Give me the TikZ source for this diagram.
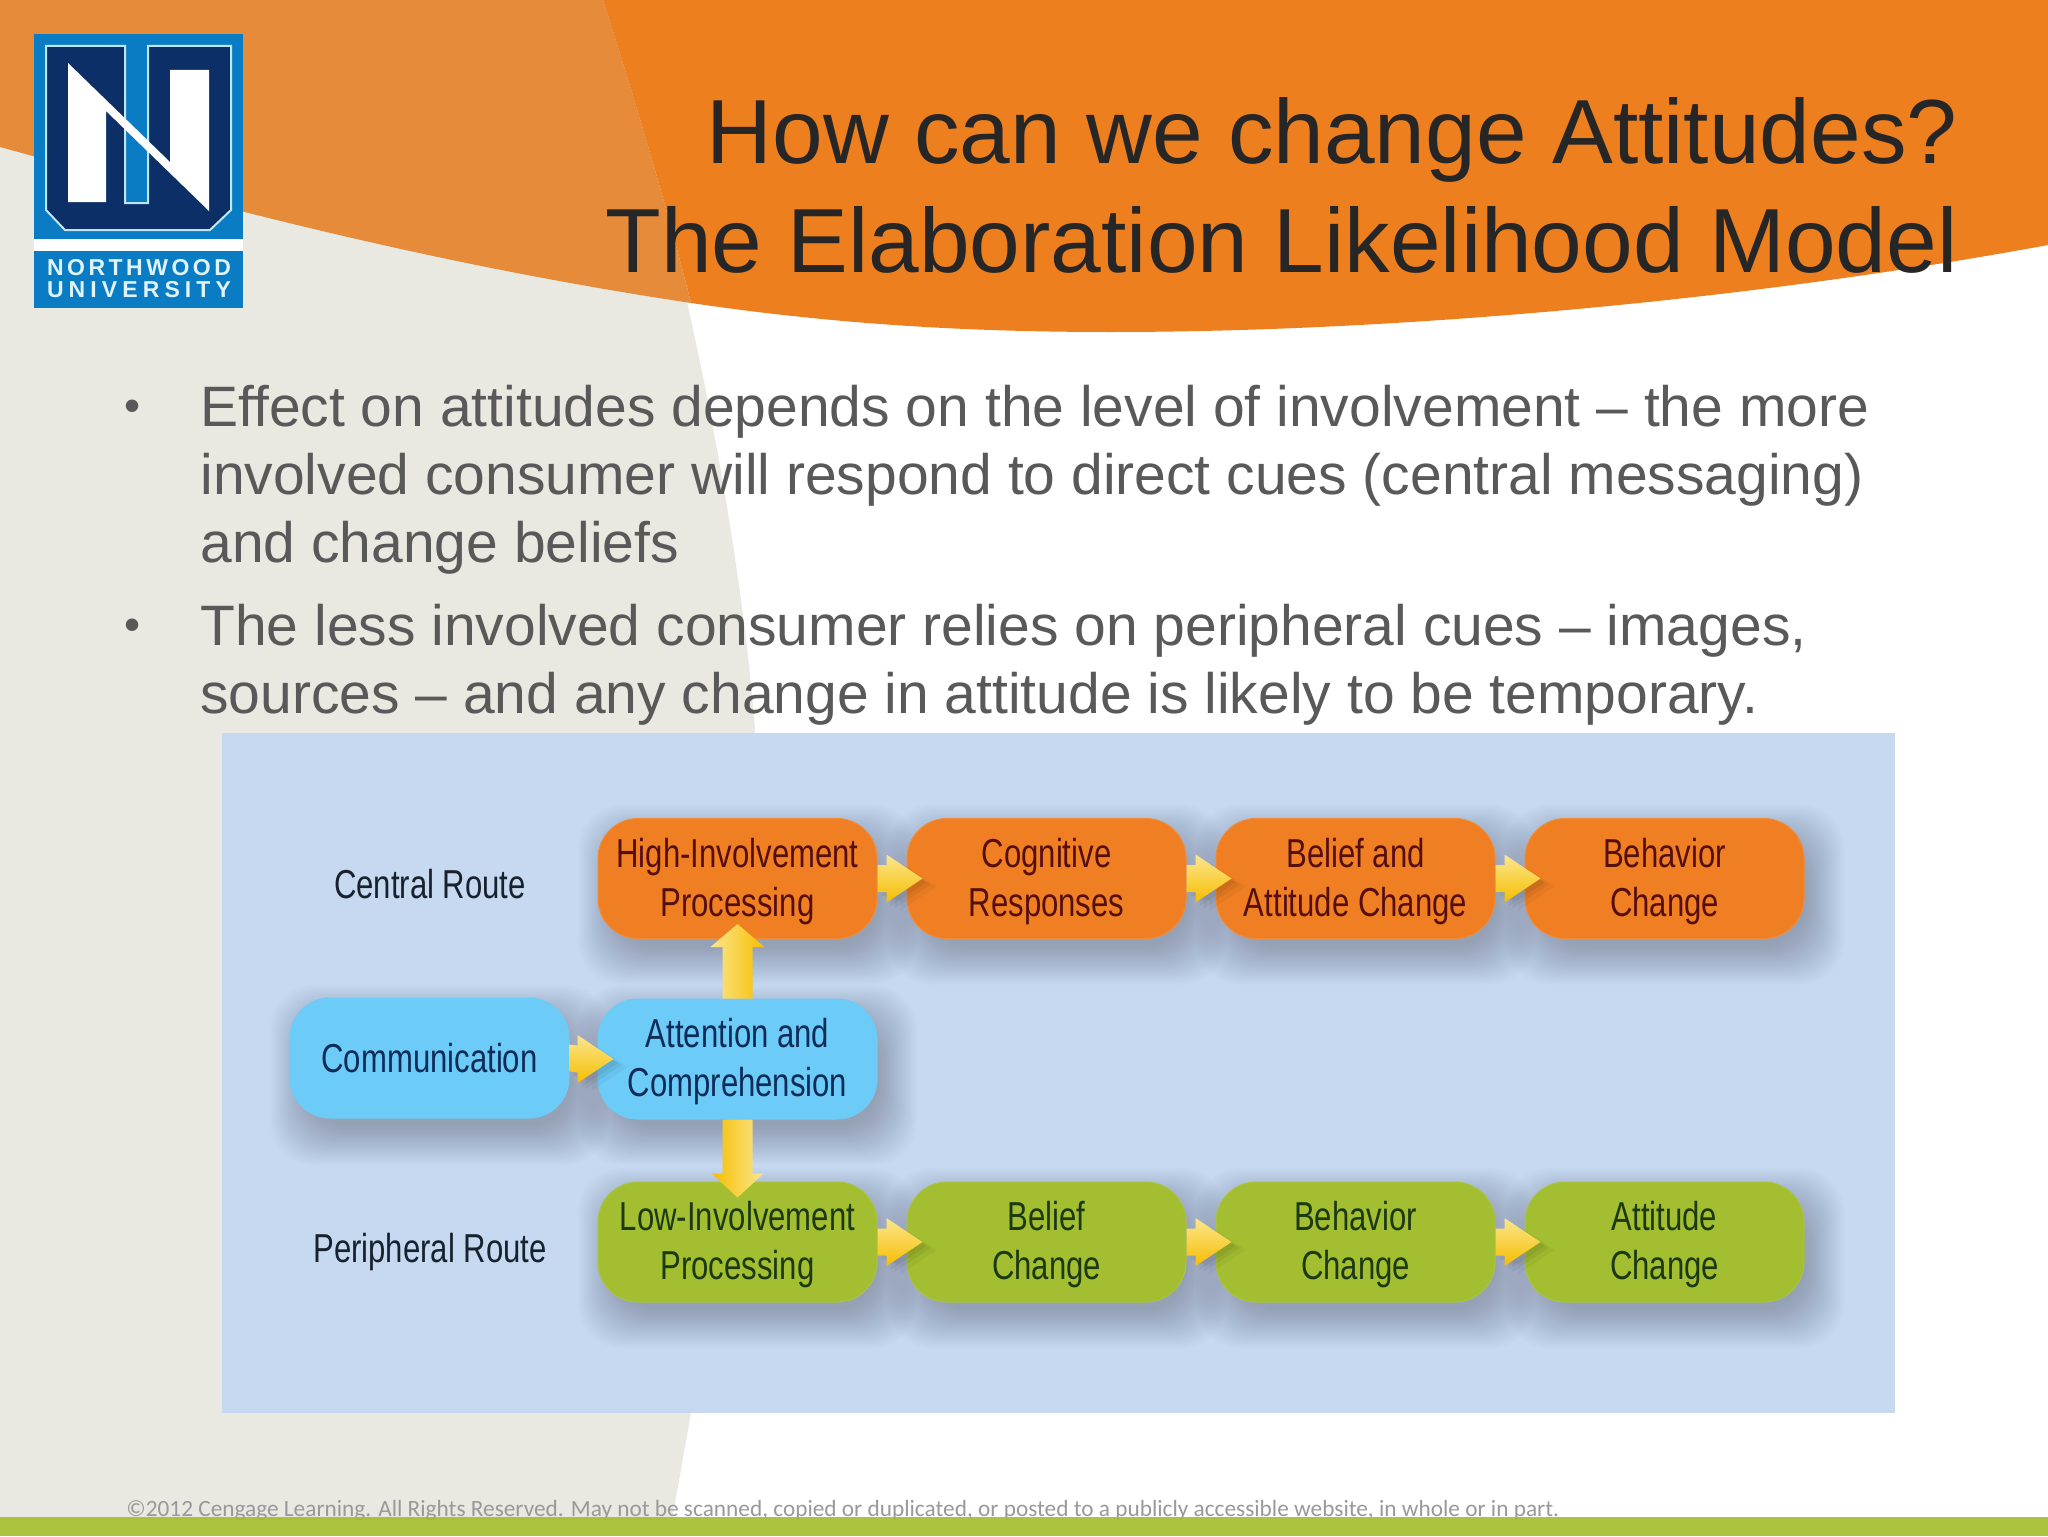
\documentclass[tikz,border=0pt]{standalone}
\usepackage{fontspec}
\setmainfont{Liberation Sans}
\newfontfamily\condfont[FakeStretch=0.77]{Liberation Sans}
\newfontfamily\footfont{Carlito}
\definecolor{beigebg}{HTML}{E9E8E1}
\definecolor{lightorange}{HTML}{E58B3A}
\definecolor{darkorange}{HTML}{EE7F1E}
\definecolor{panelblue}{HTML}{C7D9F1}
\definecolor{logoblue}{HTML}{0A7CC4}
\definecolor{logonavy}{HTML}{0B2F66}
\definecolor{logoline}{HTML}{BFE6F2}
\definecolor{barorange}{HTML}{EF7F22}
\definecolor{barblue}{HTML}{6CCBF7}
\definecolor{bargreen}{HTML}{A3BE30}
\definecolor{footgreen}{HTML}{A4BD2B}
\definecolor{arrowpale}{HTML}{FCE68F}
\definecolor{arrowgold}{HTML}{FFCB05}
\definecolor{arrowdeep}{HTML}{F5BE00}
\definecolor{textmaroon}{HTML}{560F10}
\definecolor{textnavy}{HTML}{0E2C58}
\definecolor{textgreen}{HTML}{1C3A12}
\definecolor{textroute}{HTML}{18222E}
\newcommand{\softshadow}[2]{%
  \foreach \r in {30,28,...,-8}{%
    \fill[black,opacity=0.012,rounded corners=22pt]
      ({#1-139.5+10-\r},{#2-60+16-\r}) rectangle ({#1+139.5+10+\r},{#2+60+16+\r});
  }}
\newcommand{\lift}{\rule{0pt}{17.6pt}}
\tikzset{
  x=0.5pt,y=-0.5pt,
  flowbox/.style={rounded corners=20pt,minimum width=139.5pt,minimum height=60pt,inner sep=0pt,align=center,
    line width=0.5pt,font=\condfont\fontsize{20.2}{24.5}\selectfont},
  orangebox/.style={flowbox,fill=barorange,draw=barorange!90!white,text=textmaroon},
  bluebox/.style={flowbox,fill=barblue,draw=barblue,text=textnavy},
  greenbox/.style={flowbox,fill=bargreen,draw=bargreen!92!white,text=textgreen},
  routelabel/.style={inner sep=0pt,text=textroute,font=\condfont\fontsize{20.2}{24.5}\selectfont},
  softunder/.style={preaction={fill=black,opacity=0.05,transform canvas={xshift=2pt,yshift=-2pt}},
    preaction={fill=black,opacity=0.05,transform canvas={xshift=4pt,yshift=-3pt}},
    preaction={fill=black,opacity=0.04,transform canvas={xshift=7pt,yshift=-4pt}}},
  harrow/.style={softunder,top color=arrowpale,middle color=arrowgold,bottom color=arrowdeep,
    to path={([yshift=6.75pt]\tikztostart) -- ([xshift=-10pt,yshift=6.75pt]\tikztotarget) -- ([xshift=-10pt,yshift=12pt]\tikztotarget)
      -- ([xshift=8pt]\tikztotarget) -- ([xshift=-10pt,yshift=-12pt]\tikztotarget) -- ([xshift=-10pt,yshift=-6.75pt]\tikztotarget)
      -- ([yshift=-6.75pt]\tikztostart) -- cycle}},
  uparrow/.style={left color=arrowpale,middle color=arrowgold,right color=arrowdeep,
    to path={([xshift=-7.5pt]\tikztostart) -- ([xshift=-7.5pt,yshift=-4pt]\tikztotarget) -- ([xshift=-13.5pt,yshift=-4pt]\tikztotarget)
      -- ([yshift=7.5pt]\tikztotarget) -- ([xshift=13.5pt,yshift=-4pt]\tikztotarget) -- ([xshift=7.5pt,yshift=-4pt]\tikztotarget)
      -- ([xshift=7.5pt]\tikztostart) -- cycle}},
  downarrow/.style={left color=arrowdeep,middle color=arrowgold,right color=arrowpale,
    to path={([xshift=-7.5pt]\tikztostart) -- ([xshift=-7.5pt,yshift=4pt]\tikztotarget) -- ([xshift=-13pt,yshift=4pt]\tikztotarget)
      -- ([yshift=-8pt]\tikztotarget) -- ([xshift=13pt,yshift=4pt]\tikztotarget) -- ([xshift=7.5pt,yshift=4pt]\tikztotarget)
      -- ([xshift=7.5pt]\tikztostart) -- cycle}},
  titletext/.style={anchor=base east,inner sep=0pt,text=black!85,font=\fontsize{45.55}{54}\selectfont},
  bodytext/.style={anchor=base west,inner sep=0pt,text=black!65,font=\fontsize{28.5}{34}\selectfont},
  bulletmark/.style={anchor=base west,inner sep=0pt,text=black!65,font=\fontsize{23}{28}\selectfont},
  logotext/.style={anchor=center,inner sep=0pt,text width=92pt,align=left,text=logoline!50!white,font=\fontsize{11.5}{13}\selectfont\bfseries},
}
\begin{document}
\begin{tikzpicture}
\useasboundingbox (0,0) rectangle (2048,1536);
\fill[white] (0,0) rectangle (2048,1536);
% background shapes
\fill[beigebg] (0,0) -- (603,0) .. controls (680,220) and (745,550) .. (757,760)
  .. controls (765,1000) and (720,1250) .. (672,1520) -- (0,1520) -- cycle;
\fill[lightorange] (0,0) -- (603,0) .. controls (635,100) and (665,200) .. (691,303)
  .. controls (440,265) and (240,213) .. (0,147) -- cycle;
\fill[darkorange] (603,0) -- (2048,0) -- (2048,245) .. controls (1750,300) and (1400,332) .. (1110,332)
  .. controls (950,332) and (820,322) .. (691,303) .. controls (665,200) and (635,100) .. (603,0) -- cycle;
% footer
\node[anchor=base west,inner sep=0pt,text=black!40,font=\footfont\fontsize{11.65}{14}\selectfont] (foot) at (126,1516)
  {©2012 Cengage Learning. All Rights Reserved. May not be scanned, copied or duplicated, or posted to a publicly accessible website, in whole or in part.};
\fill[footgreen,opacity=0.9] (0,1517) rectangle (2048,1536);
% logo
\fill[logoblue] (34,34) rectangle (243,308);
\fill[white] (34,239) rectangle (243,251);
\fill[logonavy,draw=logoline,line width=1pt] (46,46) -- (125,46) -- (125,203) -- (148,203) -- (148,46) -- (231,46) -- (231,210) -- (210,230) -- (65,230) -- (46,210) -- cycle;
\fill[white] (68,63) -- (170,162) -- (170,70) -- (209,70) -- (209,211) -- (106,111) -- (106,202) -- (68,202) -- cycle;
\node[logotext] (logoa) at (139,268) {N\hfill O\hfill R\hfill T\hfill H\hfill W\hfill O\hfill O\hfill D};
\node[logotext] (logob) at (139,290) {U\hfill N\hfill I\hfill V\hfill E\hfill R\hfill S\hfill I\hfill T\hfill Y};
% title
\node[titletext] (t1) at (1958,163) {How can we change Attitudes?};
\node[titletext] (t2) at (1958,272) {The Elaboration Likelihood Model};
% body
\node[bulletmark] (b0) at (124,421) {•};
\node[bodytext] (b1) at (200,426) {Effect on attitudes depends on the level of involvement – the more};
\node[bodytext] (b2) at (200,494) {involved consumer will respond to direct cues (central messaging)};
\node[bodytext] (b3) at (200,562) {and change beliefs};
\node[bulletmark] (b4) at (124,640) {•};
\node[bodytext] (b5) at (200,645) {The less involved consumer relies on peripheral cues – images,};
\node[bodytext] (b6) at (200,713) {sources – and any change in attitude is likely to be temporary.};
% panel
\fill[panelblue] (222,733) rectangle (1895,1413);
% labels
\node[routelabel] (central) at (430,884) {Central Route};
\node[routelabel] (peripheral) at (430,1252) {Peripheral Route};
% shadows
\foreach \cx in {737.5,1046.5,1355.5,1664.5}{\softshadow{\cx}{878.5}\softshadow{\cx}{1242}}
\softshadow{429.5}{1059}
\softshadow{737.5}{1059}
% boxes
\node[orangebox] (hip) at (737.5,878.5) {\lift High-Involvement\\Processing};
\node[orangebox] (cog) at (1046.5,878.5) {\lift Cognitive\\Responses};
\node[orangebox] (bel) at (1355.5,878.5) {\lift Belief and\\Attitude Change};
\node[orangebox] (beh) at (1664.5,878.5) {\lift Behavior\\Change};
\node[bluebox] (com) at (429.5,1058) {Communication};
\node[bluebox] (att) at (737.5,1059) {\lift Attention and\\Comprehension};
\node[greenbox] (lip) at (737.5,1242) {\lift Low-Involvement\\Processing};
\node[greenbox] (bc) at (1046.5,1242) {\lift Belief\\Change};
\node[greenbox] (bh) at (1355.5,1242) {\lift Behavior\\Change};
\node[greenbox] (ac) at (1664.5,1242) {\lift Attitude\\Change};
% connectors
\path[harrow] (hip.east) to (cog.west);
\path[harrow] (cog.east) to (bel.west);
\path[harrow] (bel.east) to (beh.west);
\path[harrow] (com.east) to (att.west);
\path[harrow] (lip.east) to (bc.west);
\path[harrow] (bc.east) to (bh.west);
\path[harrow] (bh.east) to (ac.west);
\path[uparrow] (att.north) to (hip.south);
\path[downarrow] (att.south) to (lip.north);
\end{tikzpicture}
\end{document}
